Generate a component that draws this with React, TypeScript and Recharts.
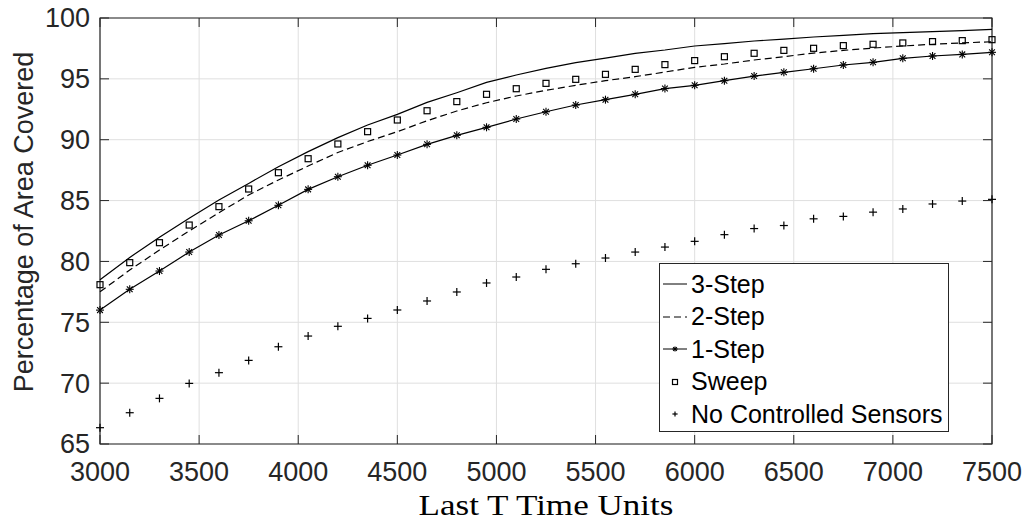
import { LineChart, Line, XAxis, YAxis, CartesianGrid, ReferenceArea } from 'recharts';

// last T time units (x), one sample every 150
const times = [
  3000, 3150, 3300, 3450, 3600, 3750, 3900, 4050, 4200, 4350, 4500, 4650, 4800, 4950, 5100, 5250,
  5400, 5550, 5700, 5850, 6000, 6150, 6300, 6450, 6600, 6750, 6900, 7050, 7200, 7350, 7500,
];

const threeStep = [
  78.5, 80.33, 81.98, 83.54, 85.05, 86.41, 87.78, 89.02, 90.17, 91.21, 92.08, 93.07, 93.86, 94.71, 95.32, 95.86,
  96.33, 96.71, 97.1, 97.37, 97.7, 97.89, 98.11, 98.27, 98.44, 98.58, 98.71, 98.8, 98.88, 98.96, 99.07,
];
const twoStep = [
  77.5, 79.29, 80.94, 82.5, 84.0, 85.46, 86.69, 87.84, 88.95, 89.85, 90.66, 91.56, 92.36, 93.04, 93.59, 94.06,
  94.47, 94.85, 95.18, 95.56, 95.95, 96.22, 96.55, 96.82, 97.12, 97.34, 97.53, 97.7, 97.84, 97.95, 98.05,
];
const oneStep = [
  76.0, 77.71, 79.21, 80.77, 82.17, 83.34, 84.61, 85.92, 86.96, 87.9, 88.74, 89.62, 90.36, 91.02, 91.7, 92.3,
  92.85, 93.29, 93.73, 94.2, 94.47, 94.85, 95.23, 95.54, 95.83, 96.14, 96.36, 96.69, 96.88, 97.01, 97.18,
];
const sweep = [
  78.09, 79.9, 81.54, 82.99, 84.5, 85.95, 87.29, 88.44, 89.65, 90.66, 91.62, 92.38, 93.13, 93.73, 94.19, 94.63,
  94.96, 95.37, 95.78, 96.17, 96.5, 96.82, 97.1, 97.34, 97.51, 97.73, 97.84, 97.95, 98.06, 98.14, 98.22,
];
const noControl = [
  66.34, 67.57, 68.75, 69.98, 70.86, 71.87, 72.99, 73.87, 74.67, 75.32, 76.01, 76.75, 77.49, 78.23, 78.72, 79.35,
  79.81, 80.28, 80.77, 81.18, 81.65, 82.2, 82.7, 82.95, 83.5, 83.7, 84.05, 84.31, 84.72, 84.96, 85.1,
];

const xTicks = [3000, 3500, 4000, 4500, 5000, 5500, 6000, 6500, 7000, 7500];
const yTicks = [65, 70, 75, 80, 85, 90, 95, 100];

const legendItems = [
  { label: '3-Step', kind: 'solid' },
  { label: '2-Step', kind: 'dashed' },
  { label: '1-Step', kind: 'star' },
  { label: 'Sweep', kind: 'square' },
  { label: 'No Controlled Sensors', kind: 'plus' },
];

const data = times.map((t, i) => ({
  t,
  s3: threeStep[i],
  s2: twoStep[i],
  s1: oneStep[i],
  sw: sweep[i],
  nc: noControl[i],
}));

const W = 1029;
const H = 523;
const PLOT = { left: 100, top: 18, right: 992, bottom: 444 };
const TICK_LEN = 9;
const AXIS = '#262626';
const GRID = '#dfdfdf';
const SANS = '"Liberation Sans", Arial, Helvetica, sans-serif';
const SERIF = '"Liberation Serif", "Times New Roman", serif';

function XTick({ x, payload }: any) {
  return (
    <g>
      <line x1={x} x2={x} y1={PLOT.bottom} y2={PLOT.bottom - TICK_LEN} stroke={AXIS} />
      <line x1={x} x2={x} y1={PLOT.top} y2={PLOT.top + TICK_LEN} stroke={AXIS} />
      <text x={x} y={PLOT.bottom + 28} dy="0.35em" textAnchor="middle" fontSize={27} fontFamily={SANS} fill={AXIS}>
        {payload.value}
      </text>
    </g>
  );
}

function YTick({ y, payload }: any) {
  return (
    <g>
      <line x1={PLOT.left} x2={PLOT.left + TICK_LEN} y1={y} y2={y} stroke={AXIS} />
      <line x1={PLOT.right} x2={PLOT.right - TICK_LEN} y1={y} y2={y} stroke={AXIS} />
      <text x={PLOT.left - 10} y={y} dy="0.35em" textAnchor="end" fontSize={27} fontFamily={SANS} fill={AXIS}>
        {payload.value}
      </text>
    </g>
  );
}

function YLabel() {
  return (
    <text
      transform={`translate(24, 222) rotate(-90)`}
      dy="0.35em"
      textAnchor="middle"
      fontSize={27}
      fontFamily={SANS}
      fill={AXIS}
    >
      Percentage of Area Covered
    </text>
  );
}

function XLabel() {
  return (
    <text
      x={546}
      y={515}
      textAnchor="middle"
      fontSize={29}
      fontFamily={SERIF}
      fill="#000"
      textLength={255}
      lengthAdjust="spacingAndGlyphs"
    >
      Last T Time Units
    </text>
  );
}

function Star({ cx, cy, r = 4 }: any) {
  const d = r * 0.72;
  return (
    <g stroke="#000" strokeWidth={1.1}>
      <line x1={cx - r} x2={cx + r} y1={cy} y2={cy} />
      <line x1={cx} x2={cx} y1={cy - r} y2={cy + r} />
      <line x1={cx - d} x2={cx + d} y1={cy - d} y2={cy + d} />
      <line x1={cx - d} x2={cx + d} y1={cy + d} y2={cy - d} />
    </g>
  );
}

function Square({ cx, cy, s = 6 }: any) {
  return <rect x={cx - s / 2} y={cy - s / 2} width={s} height={s} fill="none" stroke="#000" strokeWidth={1.2} />;
}

function Plus({ cx, cy, r = 4 }: any) {
  return (
    <g stroke="#000" strokeWidth={1.2}>
      <line x1={cx - r} x2={cx + r} y1={cy} y2={cy} />
      <line x1={cx} x2={cx} y1={cy - r} y2={cy + r} />
    </g>
  );
}

function LegendIcon({ kind }: { kind: string }) {
  return (
    <svg width={28} height={20} style={{ display: 'block' }}>
      {kind === 'solid' && <line x1={3} x2={27} y1={10} y2={10} stroke="#000" strokeWidth={1} />}
      {kind === 'dashed' && (
        <line x1={3} x2={27} y1={10} y2={10} stroke="#000" strokeWidth={1} strokeDasharray="7 4" />
      )}
      {kind === 'star' && (
        <>
          <line x1={3} x2={27} y1={10} y2={10} stroke="#000" strokeWidth={1} />
          <Star cx={15} cy={10} r={2.6} />
        </>
      )}
      {kind === 'square' && <Square cx={15} cy={10} s={5} />}
      {kind === 'plus' && <Plus cx={15} cy={10} r={2.6} />}
    </svg>
  );
}

function ChartLegend() {
  return (
    <div
      style={{
        position: 'absolute',
        left: 659,
        top: 263,
        width: 288,
        height: 163,
        border: `1px solid ${AXIS}`,
        background: '#fff',
        paddingTop: 4,
        boxSizing: 'content-box',
        fontFamily: SANS,
        fontSize: 25,
        color: '#000',
      }}
    >
      {legendItems.map((item) => (
        <div key={item.label} style={{ display: 'flex', alignItems: 'center', height: 32.5 }}>
          <LegendIcon kind={item.kind} />
          <span style={{ marginLeft: 3, whiteSpace: 'nowrap' }}>{item.label}</span>
        </div>
      ))}
    </div>
  );
}

export default function App() {
  return (
    <div style={{ position: 'fixed', left: 0, top: 0, width: W, height: H, background: '#fff' }}>
      <LineChart
        width={W}
        height={H}
        data={data}
        margin={{ top: PLOT.top, right: W - PLOT.right, left: 0, bottom: 0 }}
      >
        <CartesianGrid stroke={GRID} strokeWidth={1} />
        <XAxis
          dataKey="t"
          type="number"
          domain={[3000, 7500]}
          ticks={xTicks}
          interval={0}
          height={H - PLOT.bottom}
          axisLine={false}
          tickLine={false}
          tick={<XTick />}
          label={<XLabel />}
        />
        <YAxis
          type="number"
          domain={[65, 100]}
          ticks={yTicks}
          interval={0}
          width={PLOT.left}
          axisLine={false}
          tickLine={false}
          tick={<YTick />}
          label={<YLabel />}
        />
        <Line
          dataKey="s3"
          type="linear"
          stroke="#000"
          strokeWidth={1.2}
          dot={false}
          activeDot={false}
          isAnimationActive={false}
        />
        <Line
          dataKey="s2"
          type="linear"
          stroke="#000"
          strokeWidth={1.2}
          strokeDasharray="7 4"
          dot={false}
          activeDot={false}
          isAnimationActive={false}
        />
        <Line
          dataKey="s1"
          type="linear"
          stroke="#000"
          strokeWidth={1.2}
          dot={(p: any) => <Star key={`s1-${p.index}`} cx={p.cx} cy={p.cy} />}
          activeDot={false}
          isAnimationActive={false}
        />
        <Line
          dataKey="sw"
          type="linear"
          stroke="none"
          dot={(p: any) => <Square key={`sw-${p.index}`} cx={p.cx} cy={p.cy} />}
          activeDot={false}
          isAnimationActive={false}
        />
        <Line
          dataKey="nc"
          type="linear"
          stroke="none"
          dot={(p: any) => <Plus key={`nc-${p.index}`} cx={p.cx} cy={p.cy} />}
          activeDot={false}
          isAnimationActive={false}
        />
        <ReferenceArea x1={3000} x2={7500} y1={65} y2={100} fill="none" stroke={AXIS} strokeWidth={1.2} />
      </LineChart>
      <ChartLegend />
    </div>
  );
}
